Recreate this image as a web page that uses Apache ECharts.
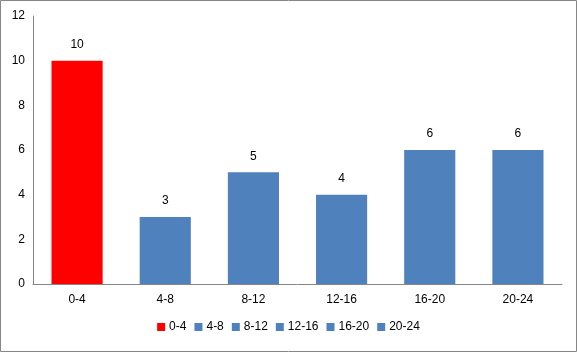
<!DOCTYPE html>
<html><head><meta charset="utf-8">
<script src="https://cdn.jsdelivr.net/npm/echarts@6/dist/echarts.min.js"></script>
<style>html,body{margin:0;padding:0;background:#fff}#c{width:577px;height:352px}</style>
</head><body><div id="c"></div>
<script>
const categories = ['0-4','4-8','8-12','12-16','16-20','20-24'];
const values = [10,3,5,4,6,6];
const colors = ['#FF0000','#4F81BD','#4F81BD','#4F81BD','#4F81BD','#4F81BD'];
const yTicks = {min:0,max:12,interval:2};

const chart = echarts.init(document.getElementById('c'));
const font = 'Liberation Sans, Arial, sans-serif';
const series = categories.map((name,i)=>({
  name: name,
  type:'bar',
  stack:'all',
  barWidth:'58%',
  data: categories.map((c,j)=> j===i ? values[i] : '-'),
  itemStyle:{color:colors[i]},
  label:{show:true,position:'top',distance:10,color:'#000',fontSize:12,fontFamily:font},
  emphasis:{disabled:true}
}));
chart.setOption({
  animation:false,
  graphic:[{type:'rect',shape:{x:0.5,y:0.5,width:576,height:351},style:{fill:'none',stroke:'#868686',lineWidth:1}}],
  grid:{left:33,right:15,top:16,bottom:68,containLabel:false},
  legend:{bottom:14,left:'center',itemWidth:8,itemHeight:8,itemGap:8,icon:'rect',
    textStyle:{fontSize:12,fontFamily:font,color:'#000',padding:[0,0,0,-1]},
    data:categories},
  xAxis:{type:'category',data:categories,
    axisLine:{lineStyle:{color:'#868686'}},axisTick:{show:false},
    axisLabel:{color:'#000',fontSize:12,fontFamily:font,margin:10}},
  yAxis:{type:'value',min:yTicks.min,max:yTicks.max,interval:yTicks.interval,
    axisLine:{show:true,lineStyle:{color:'#868686'}},axisTick:{show:false},
    splitLine:{show:false},
    axisLabel:{color:'#000',fontSize:12,fontFamily:font,margin:8}},
  series:series
});
</script></body></html>
